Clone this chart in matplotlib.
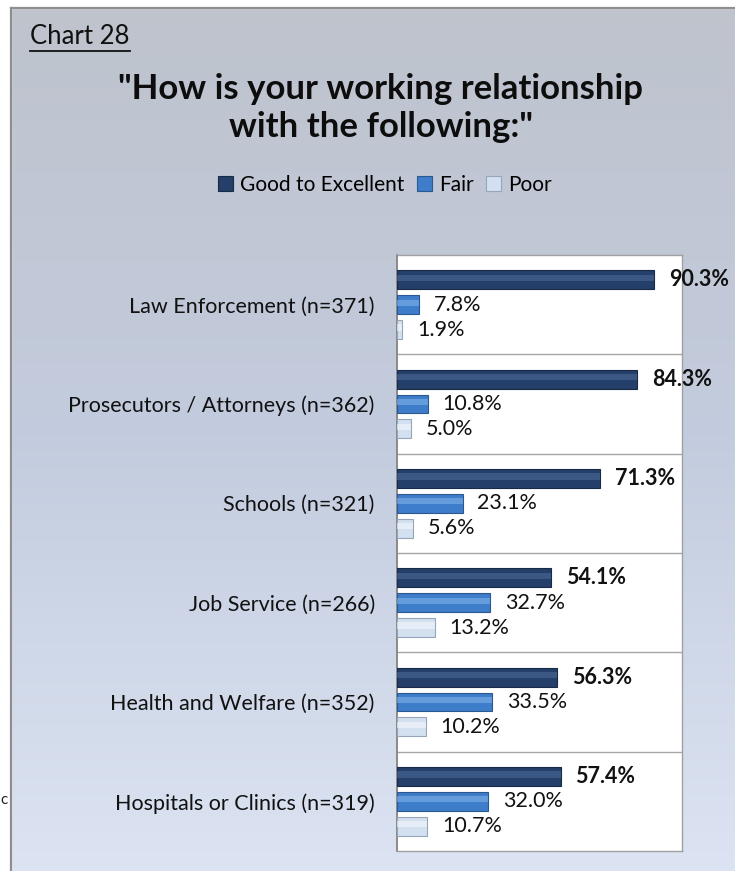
import numpy as np
import matplotlib.pyplot as plt
from matplotlib.patches import Patch, Rectangle
from matplotlib.colors import LinearSegmentedColormap

plt.rcParams['font.family'] = ['Lato', 'DejaVu Sans']

categories = [
    "Law Enforcement (n=371)",
    "Prosecutors / Attorneys (n=362)",
    "Schools (n=321)",
    "Job Service (n=266)",
    "Health and Welfare (n=352)",
    "Hospitals or Clinics (n=319)",
]
series_names = ["Good to Excellent", "Fair", "Poor"]
good = [90.3, 84.3, 71.3, 54.1, 56.3, 57.4]
fair = [7.8, 10.8, 23.1, 32.7, 33.5, 32.0]
poor = [1.9, 5.0, 5.6, 13.2, 10.2, 10.7]

# main fill, highlight stripe, edge
styles = [
    ("#243F69", "#4F6E9C", "#172B49"),
    ("#3E7DC9", "#86B6EC", "#2A5891"),
    ("#D3E0F0", "#F6F9FD", "#96A6BA"),
]

W, H = 735, 871
fig = plt.figure(figsize=(W / 100, H / 100), dpi=100)

# background gradient panel
bg = fig.add_axes([0, 0, 1, 1], zorder=-5)
cmap = LinearSegmentedColormap.from_list("bg", ["#BEC3CC", "#C3CCDE", "#DCE4F3"])
grad = np.linspace(0, 1, 256).reshape(-1, 1)
bg.imshow(grad, cmap=cmap, aspect="auto", extent=[0, W, H, 0])
bg.add_patch(Rectangle((0, 0), 11, H, color="white", zorder=2))
bg.add_patch(Rectangle((0, 0), W, 8, color="white", zorder=2))
bg.plot([11.5, 11.5], [8.5, H], color="#8E8E8E", lw=1.6, zorder=3)
bg.plot([11.5, W], [8.5, 8.5], color="#8E8E8E", lw=1.6, zorder=3)
bg.set_xlim(0, W)
bg.set_ylim(H, 0)
bg.axis("off")
bg.text(0.5, 800, "c", fontsize=11, va="center", ha="left", color="#222222", zorder=4)

# header texts
fig.text(30 / W, 1 - 37 / H, "Chart 28", fontsize=18.5, ha="left", va="center", color="#111111")
bg.plot([30, 130], [51.5, 51.5], color="#111111", lw=1.3, zorder=4)
fig.text(381 / W, 1 - 108 / H, "\"How is your working relationship\nwith the following:\"",
         fontsize=25, fontweight="bold", ha="center", va="center", linespacing=1.2,
         color="#0D0D0D")

ax = fig.add_axes([397 / W, 20 / H, 285 / W, 596 / H])
ax.set_facecolor("white")
y = np.arange(len(categories))
offsets = [-0.25, 0.0, 0.25]
h = 0.19
for vals, off, (main, hi, edge), name in zip([good, fair, poor], offsets, styles, series_names):
    ax.barh(y + off, vals, height=h, color=main, edgecolor=edge, linewidth=0.8, zorder=3, label=name)
    ax.barh(y + off - 0.02, vals, height=h * 0.32, color=hi, linewidth=0, alpha=0.55, zorder=4)
    for yi, v in zip(y, vals):
        ax.annotate(f"{v:.1f}%", (v, yi + off), xytext=(10.5, 0), textcoords="offset points",
                    va="center", ha="left", fontsize=15.5,
                    fontweight="bold" if name == series_names[0] else "normal",
                    color="#111111", annotation_clip=False, zorder=5)

for b in np.arange(0.5, len(categories) - 1, 1.0):
    ax.axhline(b, color="#A6A6A6", lw=1.0, zorder=2)

ax.set_xlim(0, 100)
ax.set_ylim(len(categories) - 0.5, -0.5)
ax.set_xticks([])
ax.set_yticks(y)
ax.set_yticklabels(categories, fontsize=15.5, color="#111111")
ax.tick_params(axis="y", length=0, pad=16)
for side, sp in ax.spines.items():
    sp.set_color("#A0A0A0")
    sp.set_linewidth(1.0)
ax.spines["left"].set_color("#8A8A8A")
ax.spines["left"].set_linewidth(1.4)

handles = [Patch(facecolor=m, edgecolor=e, linewidth=0.8) for m, _, e in styles]
fig.legend(handles, series_names, loc="center", bbox_to_anchor=(385 / W, 1 - 185 / H),
           ncol=3, frameon=False, fontsize=15, handlelength=0.7, handleheight=0.7,
           handletextpad=0.35, columnspacing=0.6)

fig.savefig("out.png", dpi=100)
